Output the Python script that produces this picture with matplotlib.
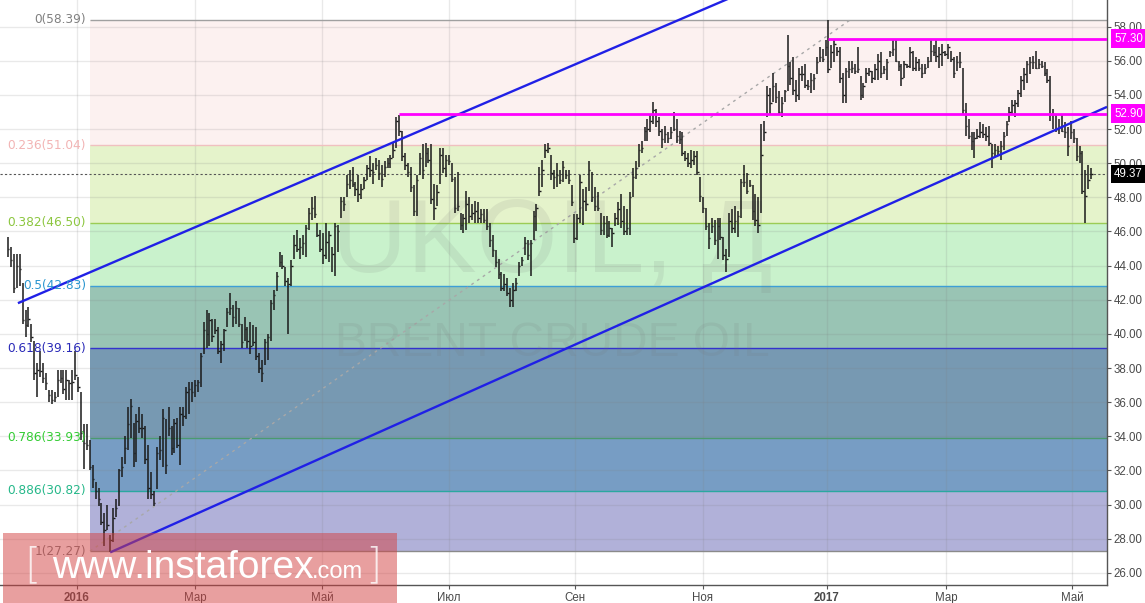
import matplotlib.pyplot as plt
import numpy as np
from matplotlib.patches import Rectangle

# daily bars, UKOIL (Brent)
highs = [
    45.7, 45.1, 44.7, 44.7, 44.7, 43.0, 41.4, 41.6, 40.6, 39.6,
    38.3, 39.0, 38.3, 37.7, 36.7, 36.7, 36.6, 37.9, 37.9, 37.9,
    37.9, 37.3, 37.9, 39.0, 37.5, 36.6, 34.7, 34.7, 33.8, 32.3,
    31.3, 31.0, 30.1, 29.5, 30.0, 28.2, 29.8, 30.3, 32.1, 32.8,
    34.0, 35.7, 36.2, 34.8, 35.3, 35.7, 35.3, 34.6, 33.5, 31.9,
    30.8, 33.4, 34.0, 35.6, 35.0, 35.7, 34.6, 35.0, 35.1, 35.7,
    35.7, 36.9, 37.2, 37.2, 37.3, 37.3, 38.9, 40.7, 41.4, 41.2,
    40.9, 40.9, 40.4, 39.6, 40.3, 41.5, 42.4, 41.7, 41.9, 41.5,
    40.6, 41.0, 40.4, 40.7, 40.5, 40.4, 38.9, 38.5, 39.7, 40.0,
    42.0, 42.6, 43.6, 44.8, 44.6, 43.9, 43.3, 44.3, 45.8, 46.1,
    45.6, 45.8, 46.4, 47.4, 48.0, 48.1, 46.5, 46.1, 45.9, 46.5,
    46.0, 45.1, 46.5, 46.4, 48.0, 48.0, 49.3, 49.6, 49.8, 48.9,
    49.3, 48.8, 49.2, 49.9, 50.4, 50.0, 50.3, 50.2, 49.9, 50.1,
    50.3, 50.5, 51.2, 52.7, 52.8, 51.9, 50.6, 50.0, 49.8, 48.7,
    49.3, 50.6, 51.1, 51.2, 50.9, 51.1, 48.8, 48.7, 50.9, 50.9,
    50.5, 50.5, 50.0, 49.2, 49.5, 47.1, 47.0, 48.4, 48.0, 47.6,
    47.8, 47.7, 47.3, 47.3, 47.3, 46.5, 45.8, 44.9, 44.4, 43.6,
    43.5, 43.3, 42.7, 43.0, 43.3, 44.2, 44.5, 45.7, 45.5, 45.5,
    47.2, 47.6, 49.8, 50.2, 51.1, 51.2, 50.5, 49.6, 50.0, 49.6,
    50.1, 49.6, 49.6, 48.7, 47.0, 47.0, 49.3, 48.5, 48.6, 50.1,
    49.5, 48.6, 48.3, 47.1, 46.9, 46.9, 46.6, 46.2, 47.1, 47.7,
    48.2, 47.5, 47.3, 48.3, 49.7, 50.1, 51.1, 51.3, 52.1, 52.6,
    52.8, 53.6, 53.2, 52.7, 52.0, 52.2, 51.8, 52.1, 53.0, 52.6,
    51.9, 51.8, 50.7, 50.6, 50.8, 50.7, 50.7, 49.2, 48.0, 47.4,
    46.5, 46.8, 46.7, 46.8, 46.8, 45.7, 45.0, 47.1, 47.3, 47.5,
    47.2, 49.1, 49.9, 49.4, 49.0, 48.7, 48.2, 48.0, 52.3, 52.5,
    54.5, 54.4, 55.3, 54.7, 54.2, 53.9, 54.3, 57.5, 55.9, 56.2,
    54.9, 55.6, 55.7, 55.8, 54.9, 55.3, 55.2, 56.2, 56.8, 56.7,
    57.2, 58.39, 56.9, 57.2, 56.8, 56.8, 55.3, 55.6, 56.0, 56.0,
    55.8, 56.8, 55.1, 54.7, 55.6, 55.6, 55.4, 55.8, 56.4, 56.5,
    55.7, 56.1, 56.6, 57.3, 57.2, 56.0, 55.8, 56.0, 55.8, 56.8,
    56.6, 56.2, 56.1, 55.8, 55.8, 56.2, 57.2, 56.9, 57.2, 56.8,
    57.0, 56.6, 57.0, 56.6, 56.2, 56.3, 56.5, 55.6, 53.5, 52.6,
    51.8, 51.8, 52.0, 52.4, 52.3, 52.1, 52.2, 51.1, 51.1, 51.0,
    51.3, 51.8, 52.5, 53.3, 53.7, 53.7, 54.3, 55.1, 55.6, 56.0,
    56.2, 56.3, 56.6, 56.1, 56.0, 55.9, 55.5, 55.1, 53.2, 52.9,
    52.6, 52.8, 52.4, 52.1, 52.5, 52.0, 51.5, 51.0, 50.7, 49.6,
    49.9, 49.7,
]
lows = [
    44.5, 43.9, 42.4, 42.7, 42.8, 40.6, 39.8, 40.4, 39.5, 37.3,
    36.3, 37.5, 37.1, 36.7, 36.0, 35.9, 36.0, 36.3, 37.1, 36.5,
    36.1, 36.1, 36.1, 37.3, 36.6, 33.8, 32.1, 33.2, 32.0, 31.0,
    30.3, 29.9, 28.8, 27.6, 28.5, 27.2, 27.8, 29.3, 29.9, 31.6,
    32.4, 33.2, 33.9, 32.2, 32.5, 34.2, 33.9, 32.4, 30.3, 30.3,
    29.9, 30.9, 32.6, 32.2, 31.8, 34.0, 32.9, 33.0, 33.3, 32.3,
    34.6, 35.0, 35.3, 36.0, 36.3, 36.6, 36.9, 38.8, 39.2, 39.3,
    39.5, 40.0, 38.8, 38.3, 39.0, 40.4, 41.1, 40.4, 40.6, 40.4,
    39.2, 39.6, 39.2, 38.8, 39.3, 38.5, 37.7, 37.2, 38.2, 38.5,
    39.6, 41.4, 42.5, 43.9, 43.8, 42.8, 40.0, 42.8, 44.4, 44.8,
    44.4, 44.6, 44.5, 46.1, 46.7, 46.8, 45.7, 44.8, 44.1, 44.4,
    44.2, 43.6, 43.4, 44.8, 46.8, 47.2, 48.0, 48.5, 48.6, 48.1,
    47.7, 47.9, 48.5, 49.0, 49.2, 48.8, 49.6, 49.0, 48.6, 49.2,
    49.7, 49.7, 50.3, 50.9, 51.6, 50.1, 49.6, 49.2, 48.3, 46.9,
    46.9, 49.3, 49.1, 49.8, 50.0, 47.6, 46.7, 47.5, 48.8, 49.4,
    49.2, 49.9, 48.9, 47.1, 47.2, 46.1, 45.9, 46.1, 46.5, 46.7,
    46.5, 46.5, 46.5, 46.5, 46.1, 45.1, 44.5, 43.9, 43.2, 42.5,
    42.5, 42.2, 41.6, 41.6, 42.5, 43.4, 44.0, 44.6, 44.3, 43.4,
    45.5, 46.0, 48.1, 48.6, 50.3, 50.6, 49.0, 48.5, 48.6, 48.8,
    48.9, 49.1, 48.8, 47.5, 45.3, 45.5, 46.5, 46.4, 47.2, 48.4,
    47.7, 47.2, 47.2, 45.8, 45.8, 45.6, 45.7, 45.1, 46.3, 46.4,
    46.2, 45.8, 45.8, 45.8, 48.0, 49.1, 49.8, 50.6, 51.3, 51.3,
    51.8, 52.3, 52.1, 51.6, 50.9, 51.2, 51.2, 51.4, 51.9, 51.2,
    51.1, 50.4, 50.1, 49.8, 49.7, 49.9, 49.3, 47.7, 47.1, 46.1,
    45.0, 45.9, 45.2, 44.4, 45.5, 44.3, 43.6, 44.5, 45.9, 45.9,
    45.7, 46.8, 48.6, 48.2, 48.6, 46.7, 46.3, 45.9, 47.1, 51.3,
    52.7, 52.8, 53.6, 53.5, 52.8, 52.7, 53.6, 54.2, 54.6, 54.0,
    53.6, 53.7, 54.8, 54.4, 54.3, 54.1, 54.3, 55.2, 55.9, 55.9,
    56.3, 55.3, 55.6, 55.9, 56.3, 54.7, 53.5, 53.5, 55.0, 55.3,
    55.2, 55.3, 53.7, 53.8, 54.7, 55.1, 54.7, 54.9, 54.9, 55.0,
    55.2, 54.9, 56.2, 56.3, 55.9, 55.4, 54.5, 55.0, 55.6, 55.6,
    55.4, 55.4, 55.4, 55.0, 55.2, 55.6, 55.9, 56.3, 55.9, 55.6,
    55.7, 56.3, 56.1, 55.9, 55.0, 55.4, 55.6, 52.8, 51.6, 51.4,
    50.8, 50.3, 51.4, 51.5, 51.5, 51.3, 51.0, 49.7, 50.4, 50.4,
    50.2, 50.8, 51.6, 52.4, 52.8, 52.7, 53.3, 53.9, 54.3, 54.7,
    55.2, 55.5, 55.5, 55.5, 55.6, 55.1, 54.7, 52.5, 52.0, 51.8,
    51.7, 51.8, 51.5, 50.4, 51.4, 51.2, 50.1, 50.0, 48.2, 46.5,
    48.5, 49.1,
]
closes = [
    45.0, 44.3, 42.7, 44.0, 43.8, 40.8, 40.5, 40.9, 39.8, 37.7,
    37.9, 37.8, 37.4, 37.1, 36.4, 36.1, 36.3, 37.3, 37.4, 36.8,
    37.3, 37.1, 37.2, 37.6, 36.9, 34.2, 33.6, 33.5, 32.2, 31.5,
    30.8, 30.3, 29.0, 28.5, 28.8, 27.9, 29.2, 29.8, 32.0, 32.2,
    33.3, 34.7, 35.8, 33.0, 34.9, 34.5, 34.5, 32.7, 31.0, 30.6,
    30.1, 33.0, 33.2, 35.1, 32.3, 34.5, 33.3, 34.8, 33.5, 35.3,
    35.2, 36.6, 36.8, 36.6, 37.0, 37.2, 38.7, 40.2, 40.0, 40.8,
    39.9, 40.2, 39.0, 39.4, 40.2, 41.3, 41.5, 41.0, 41.5, 40.6,
    39.5, 40.3, 39.6, 39.3, 39.5, 38.7, 38.0, 37.7, 39.5, 39.8,
    41.8, 42.3, 43.4, 44.2, 44.0, 43.1, 42.9, 44.0, 45.2, 45.0,
    45.1, 45.3, 46.2, 47.1, 47.4, 47.0, 45.8, 45.0, 44.6, 45.4,
    45.8, 44.7, 46.3, 46.0, 47.8, 47.6, 48.8, 49.0, 48.8, 48.5,
    48.2, 48.5, 49.0, 49.7, 49.6, 49.5, 49.9, 49.4, 49.1, 49.8,
    50.0, 50.3, 50.8, 52.5, 51.9, 50.4, 49.9, 49.5, 48.6, 47.2,
    49.0, 50.3, 49.6, 50.6, 50.2, 47.9, 47.4, 48.3, 50.5, 49.7,
    50.2, 50.1, 49.1, 47.4, 47.5, 46.4, 46.8, 47.6, 46.9, 47.1,
    47.2, 46.8, 47.0, 46.7, 46.3, 45.5, 44.9, 44.2, 43.5, 42.7,
    42.9, 42.4, 42.0, 42.6, 43.0, 44.0, 44.3, 45.3, 44.6, 45.3,
    46.9, 47.4, 48.4, 49.6, 50.8, 50.9, 49.4, 49.2, 49.3, 49.0,
    49.8, 49.3, 49.0, 47.7, 45.6, 46.8, 48.9, 47.8, 47.6, 49.6,
    48.0, 47.5, 47.4, 46.1, 46.5, 45.8, 46.2, 45.9, 46.8, 47.3,
    46.6, 46.0, 46.2, 48.0, 49.2, 49.7, 50.8, 50.9, 51.9, 52.0,
    52.5, 53.1, 52.5, 51.9, 51.4, 51.7, 51.5, 51.8, 52.0, 51.6,
    51.4, 50.6, 50.3, 50.0, 50.2, 50.4, 49.5, 48.1, 47.4, 46.3,
    45.6, 46.3, 45.5, 46.3, 45.7, 44.6, 44.4, 46.6, 46.2, 46.6,
    46.9, 48.9, 48.9, 48.4, 48.7, 47.2, 46.7, 46.4, 50.5, 51.8,
    54.0, 53.5, 54.5, 53.9, 53.0, 53.5, 54.2, 55.7, 55.0, 54.3,
    54.0, 55.2, 55.2, 54.6, 54.5, 54.9, 55.0, 55.9, 56.2, 56.1,
    56.8, 55.5, 56.5, 57.0, 56.6, 55.0, 54.0, 55.4, 55.5, 55.6,
    55.4, 55.5, 54.0, 54.5, 55.3, 55.4, 55.0, 55.5, 56.0, 55.3,
    55.5, 55.9, 56.5, 56.7, 56.0, 55.7, 55.0, 55.8, 55.7, 56.5,
    55.6, 55.9, 55.6, 55.3, 55.6, 56.0, 56.6, 56.5, 56.3, 56.4,
    56.5, 56.4, 56.8, 56.1, 55.3, 55.9, 55.9, 53.1, 52.2, 51.6,
    51.3, 51.5, 51.6, 51.8, 51.7, 51.6, 51.2, 50.6, 50.8, 50.7,
    51.0, 51.6, 52.3, 53.0, 53.4, 53.5, 54.1, 54.9, 55.2, 55.8,
    55.9, 55.9, 55.6, 55.8, 55.7, 55.3, 54.9, 52.9, 52.9, 52.0,
    52.1, 51.9, 51.8, 51.0, 51.8, 51.5, 50.4, 50.6, 48.4, 48.1,
    49.0, 49.37,
]

month_idx = [23.6, 64, 107.5, 151, 194.2, 238, 280.5, 321.2, 364.4]
month_lbl = ['2016', 'Мар', 'Май', 'Июл', 'Сен', 'Ноя', '2017', 'Мар', 'Май']

fib_ratio = ['0', '0.236', '0.382', '0.5', '0.618', '0.786', '0.886', '1']
fib_price = [58.39, 51.04, 46.50, 42.83, 39.16, 33.93, 30.82, 27.27]
fib_line_col = ['#a0a0a0', '#f0c0c0', '#9bcc55', '#3d9fd6', '#3333cc', '#4a9a70', '#2aa8a0', '#8a8a8a']
fib_text_col = ['#808080', '#f2b4b4', '#8cc63f', '#2a96d0', '#2a2ab8', '#33cc33', '#26b88a', '#808080']
fib_zone_col = ['#fcf1f0', '#e5f3cb', '#c9f2cc', '#99c4b4', '#7799b2', '#779dc4', '#b1b1d9']
fib_from = (28.1, 27.27)
fib_to = (288.4, 58.39)

res_levels = [57.30, 52.90]
res_start = [281, 134]
last_price = 49.37

upper_chan = [(3.4, 41.8), (133, 51.3)]
lower_chan = [(35, 27.2), (376.4, 53.3)]

n = len(highs)
assert n == len(lows) == len(closes)
idx = np.arange(n)
x_lo, x_hi = -2.74, 376.4
y_lo, y_hi = 25.29, 59.56

fig = plt.figure(figsize=(11.45, 6.03), dpi=100)
ax = fig.add_axes([0, 1 - 585 / 603, 1107 / 1145, 585 / 603])
ax.set_xlim(x_lo, x_hi)
ax.set_ylim(y_lo, y_hi)

# fibonacci zones
for k in range(len(fib_zone_col)):
    ax.fill_between([fib_from[0], x_hi], fib_price[k + 1], fib_price[k],
                    color=fib_zone_col[k], lw=0, zorder=1)
for p, lc, tc, r in zip(fib_price, fib_line_col, fib_text_col, fib_ratio):
    ax.hlines(p, fib_from[0], x_hi, colors=lc, lw=1, zorder=1.6)
    ax.annotate(f'{r}({p:.2f})', (fib_from[0], p), xytext=(-3, 0),
                textcoords='offset points', ha='right', va='center',
                color=tc, fontsize=8.7, family='DejaVu Sans', zorder=4)
ax.plot([fib_from[0], fib_to[0]], [fib_from[1], fib_to[1]], color='#a8a8a8',
        lw=1, ls=(0, (2, 3)), zorder=1.7)

# watermark
ax.text(552 / 1107, 1 - 245 / 585, 'UKOIL, Д', transform=ax.transAxes,
        fontsize=75, family='Liberation Sans', color=(0.45, 0.45, 0.45, 0.12),
        ha='center', va='center', zorder=1.8)
ax.text(552 / 1107, 1 - 343 / 585, 'BRENT CRUDE OIL', transform=ax.transAxes,
        fontsize=34.5, family='Liberation Sans', color=(0.45, 0.45, 0.45, 0.12),
        ha='center', va='center', zorder=1.8)

# grid
ax.set_yticks(np.arange(26, 59, 2))
ax.set_xticks(month_idx)
ax.set_xticklabels(month_lbl)
ax.grid(True, color='#808080', alpha=0.17, lw=1)

ax.axhline(last_price, color='#555555', lw=0.8, ls=(0, (2, 2)), zorder=1.9)

# ohlc bars
ax.vlines(idx, lows, highs, colors='#1a1a1a', lw=1.1, zorder=2)
ax.hlines(closes, idx, idx + 0.5, colors='#1a1a1a', lw=1.0, zorder=2)

# channel
for (x0, y0), (x1, y1), end in [(upper_chan[0], upper_chan[1], 600),
                                (lower_chan[0], lower_chan[1], x_hi)]:
    k = (y1 - y0) / (x1 - x0)
    ax.plot([x0, end], [y0, y0 + k * (end - x0)], color='#2020e6', lw=1.7,
            zorder=3, solid_capstyle='butt')

# resistance lines
for lv, st in zip(res_levels, res_start):
    ax.hlines(lv, st, x_hi, colors='#ff00ff', lw=2.0, zorder=3)

# price boxes on axis
ytr = ax.get_yaxis_transform()
for lv, fc in [(57.30, '#ff00ff'), (52.90, '#ff00ff'), (last_price, '#000000')]:
    ax.text(1.0065, lv, f'{lv:.2f}', transform=ytr, ha='left', va='center',
            fontsize=8.3, family='Liberation Sans', color='white', zorder=6,
            bbox=dict(boxstyle='square,pad=0.28', fc=fc, ec='none'))

# axes styling
for s in ['top', 'left']:
    ax.spines[s].set_visible(False)
for s in ['right', 'bottom']:
    ax.spines[s].set_color('#555555')
    ax.spines[s].set_linewidth(1)
ax.yaxis.tick_right()
ax.yaxis.set_major_formatter(plt.FormatStrFormatter('%.2f'))
ax.tick_params(axis='y', length=3, pad=1.5, labelsize=8.3, colors='#555555',
               labelcolor='#4a4a4a')
ax.tick_params(axis='x', length=3, pad=2, labelsize=8.3, colors='#555555',
               labelcolor='#4a4a4a')
for t in ax.get_yticklabels() + ax.get_xticklabels():
    t.set_family('Liberation Sans')
for t in ax.get_xticklabels():
    if t.get_text() in ('2016', '2017'):
        t.set_fontweight('bold')

# instaforex stamp
fig.patches.append(Rectangle((3 / 1145, 0), 394 / 1145, 70 / 603,
                             transform=fig.transFigure,
                             fc=(211 / 255, 65 / 255, 65 / 255, 0.5),
                             ec='none', zorder=5))
base_y = 1 - 578 / 603
fig.text(24 / 1145, base_y, '[', fontsize=30, color=(1, 1, 1, 0.8),
         family='DejaVu Sans', fontweight='light', zorder=6)
fig.text(52 / 1145, base_y, 'www.instaforex', fontsize=28, color='white',
         family='Liberation Sans', zorder=6)
fig.text(312 / 1145, base_y, '.com', fontsize=17, color='white',
         family='Liberation Sans', zorder=6)
fig.text(365 / 1145, base_y, ']', fontsize=30, color=(1, 1, 1, 0.8),
         family='DejaVu Sans', fontweight='light', zorder=6)

fig.savefig('out.png', dpi=100)
